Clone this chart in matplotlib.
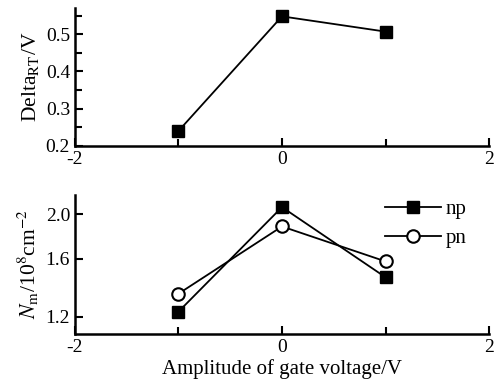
import matplotlib.pyplot as plt
from matplotlib.ticker import FixedLocator, NullLocator, FormatStrFormatter

plt.rcParams['font.family'] = 'Liberation Serif'
plt.rcParams['mathtext.fontset'] = 'stix'
plt.rcParams['axes.unicode_minus'] = False

# data
amplitude = [-1, 0, 1]
delta_rt = [0.24, 0.548, 0.507]
nm_np = [1.23, 2.07, 1.46]
nm_pn = [1.345, 1.88, 1.58]

fig = plt.figure(figsize=(4.96, 3.89), dpi=100)
ax1 = fig.add_axes([0.151, 0.625, 0.835, 0.354])
ax2 = fig.add_axes([0.151, 0.141, 0.835, 0.358])

lw_spine = 1.8

def style(ax):
    for s in ['top', 'right']:
        ax.spines[s].set_visible(False)
    for s in ['left', 'bottom']:
        ax.spines[s].set_linewidth(lw_spine)
    ax.set_xlim(-2, 2)
    ax.xaxis.set_major_locator(FixedLocator([-2, 0, 2]))
    ax.xaxis.set_minor_locator(FixedLocator([-1, 1]))
    ax.tick_params(which='both', direction='in', width=1.5, labelsize=14)
    ax.tick_params(which='major', length=6)
    ax.tick_params(which='minor', length=5)

# top panel
ax1.plot(amplitude, delta_rt, color='black', lw=1.3, marker='s', ms=9, clip_on=False)
style(ax1)
ax1.set_ylim(0.2, 0.57)
ax1.yaxis.set_major_locator(FixedLocator([0.2, 0.3, 0.4, 0.5]))
ax1.yaxis.set_minor_locator(FixedLocator([0.25, 0.35, 0.45, 0.55]))
ax1.yaxis.set_major_formatter(FormatStrFormatter('%.1f'))
ax1.set_ylabel('Delta$_{\\rm RT}$/V', fontsize=15.5, labelpad=3)

# bottom panel
ax2.plot(amplitude, nm_np, color='black', lw=1.3, marker='s', ms=9, label='np', clip_on=False)
ax2.plot(amplitude, nm_pn, color='black', lw=1.3, marker='o', ms=9, mfc='white',
         mew=1.5, label='pn', clip_on=False)
style(ax2)
ax2.set_yscale('log')
ax2.set_ylim(1.1, 2.2)
ax2.yaxis.set_major_locator(FixedLocator([1.2, 1.6, 2.0]))
ax2.yaxis.set_minor_locator(NullLocator())
ax2.yaxis.set_major_formatter(FormatStrFormatter('%.1f'))
ax2.set_ylabel('$N_{\\rm m}$/10$^{8}$cm$^{-2}$', fontsize=15.5, labelpad=3)
ax2.set_xlabel('Amplitude of gate voltage/V', fontsize=15, labelpad=2)
ax2.legend(loc='upper right', bbox_to_anchor=(0.99, 1.10), frameon=False, fontsize=15,
           handlelength=2.7, handletextpad=0.2, labelspacing=0.45)

fig.savefig('out.png', dpi=100)
